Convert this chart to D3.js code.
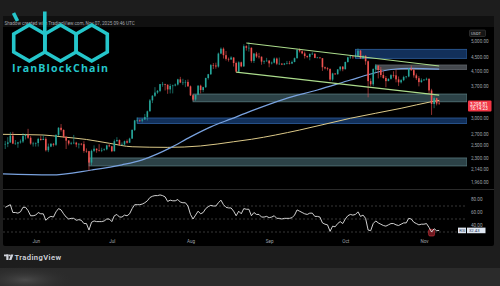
<!DOCTYPE html>
<html>
<head>
<meta charset="utf-8">
<script src="https://cdn.jsdelivr.net/npm/d3@7"></script>
<style>
  body { margin: 0; background: #1e1e1e; }
  svg { display: block; }
</style>
</head>
<body>
<div class="container"></div>
<script>
// ETH/USDT daily, May 20 -> Nov 07 2025 (open = previous close)
var firstDay = "2025-05-20";
var firstOpen = 2520;
var closes = [
  2525, 2550, 2665, 2530, 2530, 2550, 2565, 2660, 2680, 2630, 2530, 2530,
  2540, 2610, 2590, 2610, 2420, 2480, 2525, 2510, 2680, 2810, 2770, 2645, 2580, 2530, 2540, 2545, 2515, 2525, 2520, 2410, 2405, 2230, 2410, 2445, 2420, 2415, 2425, 2435, 2500, 2485,
  2405, 2570, 2590, 2510, 2515, 2570, 2545, 2615, 2770, 2950, 2955, 2945, 2970, 3015, 3135, 3370, 3475, 3550, 3590, 3755, 3760, 3740, 3625, 3710, 3720, 3745, 3875, 3795, 3795, 3810, 3700,
  3485, 3390, 3500, 3715, 3610, 3680, 3910, 4010, 4260, 4250, 4220, 4600, 4750, 4550, 4440, 4420, 4480, 4320, 4080, 4340, 4225, 4830, 4780, 4780, 4380, 4600, 4510, 4505, 4360, 4370, 4390,
  4310, 4330, 4450, 4300, 4300, 4275, 4305, 4310, 4305, 4350, 4460, 4715, 4670, 4605, 4525, 4500, 4590, 4595, 4470, 4480, 4460, 4200, 4170, 4150, 3870, 4030, 4010, 4140, 4215, 4145,
  4350, 4485, 4510, 4490, 4520, 4690, 4455, 4530, 4370, 3830, 3750, 4150, 4245, 4125, 3990, 3910, 3830, 3890, 3985, 3980, 3875, 3800, 3855, 3935, 3950, 4160, 4120, 3980, 3905, 3805, 3850,
  3870, 3890, 3600, 3290, 3420, 3300, 3298.81
];
var highs = [
  2575, 2640, 2730, 2735, 2590, 2560, 2600, 2710, 2700, 2790, 2660, 2560,
  2550, 2630, 2660, 2680, 2640, 2530, 2540, 2540, 2690, 2820, 2880, 2780, 2650, 2590, 2560, 2680, 2560, 2540, 2540, 2570, 2450, 2410, 2430, 2500, 2450, 2520, 2460, 2450, 2510, 2520,
  2490, 2600, 2640, 2600, 2550, 2580, 2600, 2630, 2780, 2960, 3010, 2970, 2990, 3080, 3150, 3400, 3490, 3680, 3610, 3760, 3810, 3760, 3750, 3760, 3740, 3770, 3890, 3940, 3890, 3860, 3870,
  3720, 3500, 3500, 3730, 3740, 3690, 3920, 4020, 4290, 4320, 4330, 4630, 4790, 4790, 4680, 4480, 4520, 4490, 4360, 4370, 4360, 4890, 4860, 4955, 4790, 4620, 4650, 4620, 4510, 4400, 4470,
  4400, 4360, 4480, 4480, 4480, 4320, 4320, 4380, 4380, 4390, 4480, 4730, 4760, 4700, 4660, 4540, 4600, 4640, 4600, 4500, 4490, 4460, 4220, 4200, 4170, 4050, 4030, 4150, 4230, 4235,
  4360, 4500, 4560, 4530, 4600, 4760, 4710, 4550, 4550, 4390, 3900, 4170, 4290, 4250, 4210, 4090, 3960, 3900, 4010, 4090, 4140, 3950, 3880, 3970, 3960, 4180, 4250, 4170, 4030, 3960, 3900,
  3880, 3920, 3900, 3640, 3460, 3430, 3370
];
var lows = [
  2440, 2470, 2540, 2520, 2510, 2460, 2530, 2540, 2600, 2610, 2510, 2480,
  2480, 2480, 2580, 2590, 2400, 2390, 2470, 2480, 2490, 2660, 2740, 2630, 2440, 2500, 2510, 2520, 2470, 2450, 2500, 2380, 2380, 2110, 2190, 2390, 2380, 2400, 2390, 2410, 2420, 2470,
  2390, 2400, 2560, 2500, 2500, 2500, 2530, 2540, 2610, 2750, 2910, 2920, 2910, 2960, 2950, 3130, 3310, 3450, 3520, 3560, 3690, 3600, 3520, 3530, 3530, 3700, 3720, 3780, 3730, 3680, 3690,
  3470, 3360, 3360, 3490, 3530, 3560, 3660, 3870, 3990, 4150, 4160, 4190, 4580, 4450, 4390, 4360, 4420, 4220, 4050, 4060, 4200, 4210, 4690, 4660, 4330, 4320, 4470, 4450, 4270, 4290, 4360,
  4200, 4280, 4310, 4260, 4270, 4260, 4260, 4280, 4280, 4290, 4340, 4450, 4630, 4580, 4450, 4460, 4400, 4560, 4460, 4460, 4450, 4100, 4140, 4110, 3830, 3830, 3990, 4000, 4090, 4090,
  4140, 4330, 4440, 4440, 4480, 4510, 4440, 4430, 4270, 3440, 3700, 3700, 4050, 3900, 3930, 3890, 3680, 3830, 3870, 3920, 3800, 3710, 3770, 3830, 3900, 3930, 4100, 3920, 3860, 3700, 3790,
  3840, 3850, 3520, 3060, 3200, 3260, 3280
];
var rsi = [
  68, 70, 72, 60, 60, 59, 61, 68, 68, 63, 55, 55,
  56, 60, 58, 58, 48, 52, 54, 53, 61, 66, 64, 58, 53, 50, 51, 51, 48, 49, 48, 43, 43, 33, 45, 47, 46, 46, 46, 47, 50, 50,
  46, 55, 57, 53, 53, 56, 55, 58, 66, 72, 72, 72, 73, 75, 78, 83, 85, 86, 86, 87, 86, 84, 77, 79, 78, 78, 80, 76, 75, 75, 70,
  57, 50, 56, 62, 58, 60, 66, 69, 71, 70, 70, 75, 79, 72, 68, 67, 67, 62, 55, 62, 58, 66, 65, 65, 55, 60, 57, 57, 53, 53, 54,
  52, 53, 55, 51, 51, 50, 51, 51, 51, 52, 56, 64, 62, 60, 58, 57, 59, 59, 54, 54, 53, 44, 42, 41, 31, 39, 38, 43, 46, 43,
  50, 55, 57, 56, 57, 61, 54, 56, 51, 33, 32, 43, 47, 44, 42, 40, 39, 41, 43, 43, 41, 40, 42, 44, 44, 51, 50, 45, 43, 41, 42,
  42, 43, 37, 30, 35, 32, 32.43
];

// moving averages
var yellowMA = [
  ["2025-05-19", 2690], ["2025-06-04", 2678], ["2025-06-11", 2647], ["2025-06-21", 2600],
  ["2025-06-30", 2535], ["2025-07-09", 2477], ["2025-07-23", 2467], ["2025-08-05", 2490],
  ["2025-08-18", 2561], ["2025-08-25", 2603], ["2025-09-13", 2768], ["2025-10-03", 2993],
  ["2025-10-23", 3198], ["2025-11-04", 3341], ["2025-11-07", 3371]
];
var blueMA = [
  ["2025-05-19", 2068], ["2025-06-07", 2054], ["2025-06-23", 2123], ["2025-07-05", 2197],
  ["2025-07-13", 2271], ["2025-07-19", 2363], ["2025-07-24", 2459], ["2025-08-01", 2645],
  ["2025-08-09", 2826], ["2025-08-17", 2980], ["2025-08-25", 3143], ["2025-09-07", 3400],
  ["2025-09-20", 3611], ["2025-10-03", 3858], ["2025-10-11", 4016], ["2025-10-19", 4138],
  ["2025-10-27", 4171], ["2025-11-07", 4150]
];

// drawings: channel + zones [start, top price, bottom price]
var upperChannel = [["2025-08-23", 4934], ["2025-11-07", 4233]];
var lowerChannel = [["2025-08-19", 4067], ["2025-11-07", 3490]];
var blueZones = [["2025-10-05", 4731, 4456], ["2025-07-11", 2998, 2890]];
var grayZones = [["2025-10-13", 4263, 4140]];
var tealZones = [["2025-08-02", 3515, 3339], ["2025-06-22", 2299, 2181]];

var priceTicks = [5000, 4500, 4100, 3700, 3000, 2700, 2500, 2300, 2140, 1960];
var rsiTicks = [80, 60, 40];
var rsiBands = [70, 50, 30];
var lastPrice = 3298.81;
var lastRsi = 32.43;

var parse = d3.utcParse("%Y-%m-%d");
var days = d3.utcDay.range(parse(firstDay), d3.utcDay.offset(parse(firstDay), closes.length));

var W = 500, H = 286;
var paneRight = 467;

var svg = d3
  .select(".container")
  .append("svg")
  .attr("width", W)
  .attr("height", H)
  .style("font-family", "Roboto, 'Noto Sans', sans-serif");

var x = d3
  .scaleUtc()
  .domain([parse("2025-05-19"), parse("2025-11-18")])
  .range([2.7, 467.1]);

var y = d3.scaleLog().domain([1960, 5000]).range([182, 41]);
var ry = d3.scaleLinear().domain([30, 70]).range([232, 206]);

// background / frame
var defs = svg.append("defs");
var glow = defs.append("radialGradient").attr("id", "glow");
glow.append("stop").attr("offset", "0%").attr("stop-color", "#4a4a4a");
glow.append("stop").attr("offset", "100%").attr("stop-color", "#2b2b2b").attr("stop-opacity", 0);

svg.append("rect").attr("width", W).attr("height", H).attr("fill", "#1d1d1d");
svg.append("rect").attr("y", 268).attr("width", W).attr("height", 18).attr("fill", "#2b2b2b");
svg.append("ellipse").attr("cx", 25).attr("cy", 280).attr("rx", 50).attr("ry", 14).attr("fill", "url(#glow)");
svg.append("rect").attr("x", 3).attr("y", 16).attr("width", 491).attr("height", 230).attr("rx", 2).attr("fill", "#000");
svg.append("rect").attr("x", 3).attr("y", 16).attr("width", 491).attr("height", 11).attr("fill", "#101010");

svg
  .append("text")
  .attr("x", 4.5)
  .attr("y", 24.5)
  .attr("font-size", 4.6)
  .attr("fill", "#a3a6ad")
  .text("Shadow created with TradingView.com, Nov 07, 2025 09:46 UTC");

defs.append("clipPath").attr("id", "main").append("rect")
  .attr("x", 3).attr("y", 27).attr("width", paneRight - 3).attr("height", 162);
defs.append("clipPath").attr("id", "rsipane").append("rect")
  .attr("x", 3).attr("y", 190).attr("width", paneRight - 3).attr("height", 56);

// pane separator
svg.append("line").attr("x1", 3).attr("x2", 494).attr("y1", 189.5).attr("y2", 189.5).attr("stroke", "#2a2a2a");

var main = svg.append("g").attr("clip-path", "url(#main)");

function zone(list, fill, stroke) {
  main
    .selectAll(null)
    .data(list)
    .enter()
    .append("rect")
    .attr("x", function (d) { return x(parse(d[0])); })
    .attr("y", function (d) { return y(d[1]); })
    .attr("width", function (d) { return paneRight - x(parse(d[0])); })
    .attr("height", function (d) { return y(d[2]) - y(d[1]); })
    .attr("fill", fill)
    .attr("stroke", stroke)
    .attr("stroke-width", 0.8);
}
zone(tealZones, "#2c4247", "#587a7e");
zone(blueZones, "#12305a", "#2e5f9e");
zone(grayZones, "#44484d", "#60656b");

var line = d3
  .line()
  .x(function (d) { return x(parse(d[0])); })
  .y(function (d) { return y(d[1]); });

var smooth = d3
  .line()
  .curve(d3.curveMonotoneX)
  .x(function (d) { return x(parse(d[0])); })
  .y(function (d) { return y(d[1]); });

main.append("path").attr("d", smooth(yellowMA)).attr("fill", "none").attr("stroke", "#dcc988").attr("stroke-width", 1);
main.append("path").attr("d", smooth(blueMA)).attr("fill", "none").attr("stroke", "#7aa3e0").attr("stroke-width", 1.2);

// candles
var candles = closes.map(function (c, i) {
  return {
    date: days[i],
    open: i ? closes[i - 1] : firstOpen,
    high: highs[i],
    low: lows[i],
    close: c,
  };
});

var candle = main
  .selectAll("g.candle")
  .data(candles)
  .enter()
  .append("g")
  .attr("class", "candle")
  .attr("fill", function (d) { return d.close >= d.open ? "#26a69a" : "#ef5350"; })
  .attr("stroke", function (d) { return d.close >= d.open ? "#26a69a" : "#ef5350"; });

candle
  .append("line")
  .attr("x1", function (d) { return x(d.date); })
  .attr("x2", function (d) { return x(d.date); })
  .attr("y1", function (d) { return y(d.high); })
  .attr("y2", function (d) { return y(d.low); })
  .attr("stroke-width", 0.6);

candle
  .append("rect")
  .attr("stroke", "none")
  .attr("x", function (d) { return x(d.date) - 0.8; })
  .attr("width", 1.6)
  .attr("y", function (d) { return y(Math.max(d.open, d.close)); })
  .attr("height", function (d) {
    return Math.max(0.6, Math.abs(y(d.open) - y(d.close)));
  });

// channel
[upperChannel, lowerChannel].forEach(function (c) {
  main.append("path").attr("d", line(c)).attr("fill", "none").attr("stroke", "#acdc8c").attr("stroke-width", 1.1);
});

// price axis
var pAxis = svg
  .append("g")
  .attr("transform", "translate(471,0)")
  .call(d3.axisRight(y).tickValues(priceTicks).tickSize(0).tickPadding(0).tickFormat(d3.format(",.2f")));
pAxis.select(".domain").remove();
pAxis.selectAll("text").attr("fill", "#9ea1a8").attr("font-size", 4.6).attr("font-family", "Roboto, sans-serif");

// USDT badge
svg.append("rect").attr("x", 469.5).attr("y", 30).attr("width", 16).attr("height", 6.5).attr("rx", 1)
  .attr("fill", "#151515").attr("stroke", "#4a4a4a").attr("stroke-width", 0.5);
svg.append("text").attr("x", 471).attr("y", 34.7).attr("font-size", 4).attr("fill", "#c8cad0").text("USDT");

// last price tag
var ly = y(lastPrice);
svg.append("rect").attr("x", 468).attr("y", ly - 3).attr("width", 23.5).attr("height", 11).attr("rx", 1).attr("fill", "#f23645");
svg.append("text").attr("x", 470).attr("y", ly + 2).attr("font-size", 4.6).attr("fill", "#fff").text(d3.format(",.2f")(lastPrice));
svg.append("text").attr("x", 470).attr("y", ly + 6.8).attr("font-size", 4.6).attr("fill", "#fff").text("16:14:23");

// RSI pane
var rsiG = svg.append("g").attr("clip-path", "url(#rsipane)");
rsiG
  .selectAll("line.band")
  .data(rsiBands)
  .enter()
  .append("line")
  .attr("class", "band")
  .attr("x1", 3)
  .attr("x2", paneRight)
  .attr("y1", function (d) { return ry(d); })
  .attr("y2", function (d) { return ry(d); })
  .attr("stroke", "#5a5a5a")
  .attr("stroke-width", 0.6)
  .attr("stroke-dasharray", "2,2");

// oversold marker
var mark = d3.utcDay.offset(parse(firstDay), 168);
rsiG.append("rect").attr("x", x(mark) - 3).attr("y", 229.3).attr("width", 6).attr("height", 6.7).attr("rx", 1.5)
  .attr("fill", "rgba(242,54,69,0.45)").attr("stroke", "#d0303c").attr("stroke-width", 0.6);

var rsiLine = d3
  .line()
  .x(function (d, i) { return x(days[i]); })
  .y(function (d) { return ry(d); });
rsiG.append("path").attr("d", rsiLine(rsi)).attr("fill", "none").attr("stroke", "#e6e6e6").attr("stroke-width", 0.9);

var rAxis = svg
  .append("g")
  .attr("transform", "translate(471,0)")
  .call(d3.axisRight(ry).tickValues(rsiTicks).tickSize(0).tickPadding(0).tickFormat(d3.format(".2f")));
rAxis.select(".domain").remove();
rAxis.selectAll("text").attr("fill", "#9ea1a8").attr("font-size", 4.6).attr("font-family", "Roboto, sans-serif");

// RSI tag
var ryl = ry(lastRsi);
svg.append("rect").attr("x", 458).attr("y", ryl - 2.8).attr("width", 8).attr("height", 5.6).attr("fill", "#dfe7f2");
svg.append("rect").attr("x", 467).attr("y", ryl - 2.8).attr("width", 18.5).attr("height", 5.6).attr("fill", "#dfe7f2");
svg.append("text").attr("x", 459.3).attr("y", ryl + 1.6).attr("font-size", 4.2).attr("fill", "#1d3557").text("RSI");
svg.append("text").attr("x", 469).attr("y", ryl + 1.6).attr("font-size", 4.2).attr("fill", "#1d3557").text(d3.format(".2f")(lastRsi));

// time axis
var tAxis = svg
  .append("g")
  .attr("transform", "translate(0,239.6)")
  .call(d3.axisBottom(x).ticks(d3.utcMonth.every(1)).tickSize(0).tickPadding(0).tickFormat(d3.utcFormat("%b")));
tAxis.select(".domain").remove();
tAxis.selectAll("text").attr("fill", "#9ea1a8").attr("font-size", 4.6).attr("font-family", "Roboto, sans-serif");

// IranBlockChain logo
var cyan = "#25c6cb";
var logo = svg.append("g").attr("fill", "none").attr("stroke", cyan).attr("stroke-width", 3.6).attr("stroke-linejoin", "miter");
function hex(cx, cy, r) {
  var pts = d3.range(6).map(function (k) {
    var a = Math.PI / 3 * k - Math.PI / 2;
    return [cx + r * Math.cos(a), cy + r * Math.sin(a)];
  });
  return "M" + pts.join("L") + "Z";
}
[29.3, 60.5, 91.7].forEach(function (cx) {
  logo.append("path").attr("d", hex(cx, 43, 18));
});
logo.append("line").attr("x1", 44.8).attr("x2", 44.8).attr("y1", 11.5).attr("y2", 40);
logo.append("path").attr("d", "M13.5,13 L17.5,21");
svg
  .append("text")
  .attr("x", 12)
  .attr("y", 71.6)
  .attr("font-size", 10.6)
  .attr("font-weight", "bold")
  .attr("font-family", "'Open Sans', sans-serif")
  .attr("fill", cyan)
  .attr("textLength", 96)
  .text("IranBlockChain");

// TradingView footer
var tv = svg.append("g").attr("fill", "#d1d4dc");
tv.append("rect").attr("x", 4).attr("y", 254.5).attr("width", 4.5).attr("height", 1.8);
tv.append("rect").attr("x", 6.3).attr("y", 254.5).attr("width", 2.2).attr("height", 5.5);
tv.append("circle").attr("cx", 9.8).attr("cy", 255.4).attr("r", 0.9);
tv.append("path").attr("d", "M11,254.5 L13.4,254.5 L11.4,260 L9,260 Z");
tv.append("text").attr("x", 14.5).attr("y", 260).attr("font-size", 7.6).attr("font-weight", 600).attr("textLength", 46.5).text("TradingView");
</script>
</body>
</html>
